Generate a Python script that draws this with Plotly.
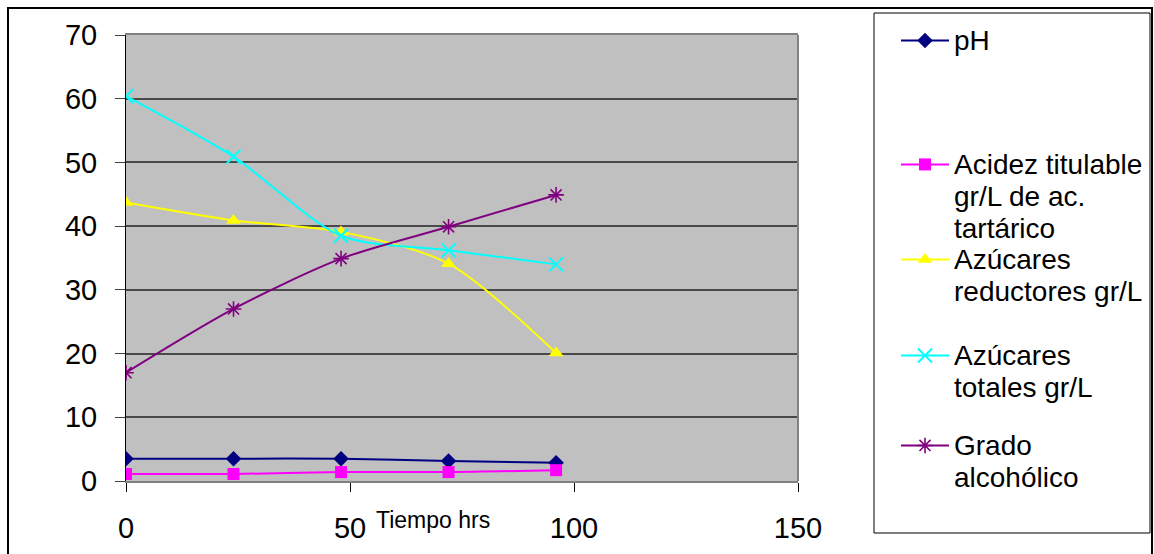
import plotly.graph_objects as go

# ---- data ----
tiempo = [0, 24, 48, 72, 96]
ph = [3.5, 3.5, 3.5, 3.15, 2.85]
acidez = [1.1, 1.1, 1.4, 1.4, 1.7]
azucares_red = [43.7, 40.9, 39.1, 34.1, 20.1]
azucares_tot = [60.4, 50.9, 38.5, 36.2, 34.0]
grado = [17.0, 27.0, 34.9, 39.9, 44.9]

name_lines = [
    ["pH"],
    ["Acidez titulable", "gr/L de ac.", "tartárico"],
    ["Azúcares", "reductores gr/L"],
    ["Azúcares", "totales gr/L"],
    ["Grado", "alcohólico"],
]
series = [ph, acidez, azucares_red, azucares_tot, grado]
colors = ["#000080", "#FF00FF", "#FFFF00", "#00FFFF", "#800080"]
symbols = ["diamond", "square", "triangle-up", "x-thin", "asterisk-open"]
sizes = [12, 12, 13, 14, 13]
mlw = [0, 0, 0, 2, 1.6]
legend_ids = ["legend", "legend2", "legend3", "legend4", "legend5"]
legend_row_y = [43, 167, 262, 358, 448]   # pixel centre of first legend line

W, H = 1154, 554
L, R, T, B = 126, 798, 35, 481
pw, ph_ = R - L, B - T

def px(x):
    return (x - L) / pw

def py(y):
    return (B - y) / ph_

font = "Liberation Sans, Arial, sans-serif"
GLYPH = 28      # glyph size of legend text
LINE_BASE = 24.5  # base size -> line spacing 1.3*24.5 ~ 32 px

def legend_name(lines):
    return "<br>".join(
        "<span style='font-size:%dpx'>%s</span>" % (GLYPH, t) for t in lines)

fig = go.Figure()
for nl, ys, c, s, sz, lw, lg in zip(name_lines, series, colors, symbols, sizes, mlw, legend_ids):
    fig.add_trace(go.Scatter(
        x=tiempo, y=ys, name=legend_name(nl), mode="lines+markers", legend=lg,
        line=dict(color=c, width=2, shape="spline", smoothing=0.8),
        marker=dict(symbol=s, size=sz, color=c, line=dict(width=lw, color=c)),
    ))

legend_layout = {}
for lg, yc in zip(legend_ids, legend_row_y):
    legend_layout[lg] = dict(
        x=px(896), y=py(yc - 25), xanchor="left", yanchor="top",
        bgcolor="rgba(0,0,0,0)", borderwidth=0,
        font=dict(size=LINE_BASE, family=font, color="black"),
        valign="top", itemwidth=48,
    )

fig.update_layout(
    width=W, height=H,
    margin=dict(l=L, r=W - R, t=T, b=H - B, autoexpand=False),
    paper_bgcolor="white",
    plot_bgcolor="#C0C0C0",
    font=dict(family=font, color="black", size=28),
    showlegend=True,
    xaxis=dict(
        range=[0, 150], dtick=50, tick0=0,
        showgrid=False, zeroline=False, automargin=False,
        showline=True, linecolor="#808080", linewidth=2, mirror=True,
        ticks="outside", ticklen=9, tickcolor="black", tickwidth=1,
        tickfont=dict(size=29, family=font, color="black"),
        ticklabelstandoff=11,
    ),
    yaxis=dict(
        range=[0, 70], dtick=10, tick0=0, automargin=False,
        showgrid=True, gridcolor="#4a4a4a", gridwidth=1.6,
        zeroline=False,
        showline=True, linecolor="black", linewidth=1,
        ticks="outside", ticklen=10, tickcolor="#404040", tickwidth=1,
        tickfont=dict(size=29, family=font, color="black"),
        ticklabelstandoff=12,
    ),
    shapes=[
        # right border of plot area
        dict(type="line", xref="paper", yref="paper", x0=1, x1=1, y0=0, y1=1,
             line=dict(color="#808080", width=2)),
        # legend box
        dict(type="rect", xref="paper", yref="paper",
             x0=px(874), x1=px(1150), y0=py(533), y1=py(13),
             line=dict(color="black", width=1)),
        # outer chart border
        dict(type="rect", xref="paper", yref="paper",
             x0=px(8), x1=px(1152), y0=py(556), y1=py(8),
             line=dict(color="black", width=2)),
    ],
    annotations=[
        dict(text="Tiempo hrs", xref="paper", yref="paper",
             x=px(374), y=py(505), xanchor="left", yanchor="top",
             showarrow=False, font=dict(size=23, family=font, color="black")),
    ],
)
fig.update_layout(**legend_layout)

fig.write_html("out.html")
